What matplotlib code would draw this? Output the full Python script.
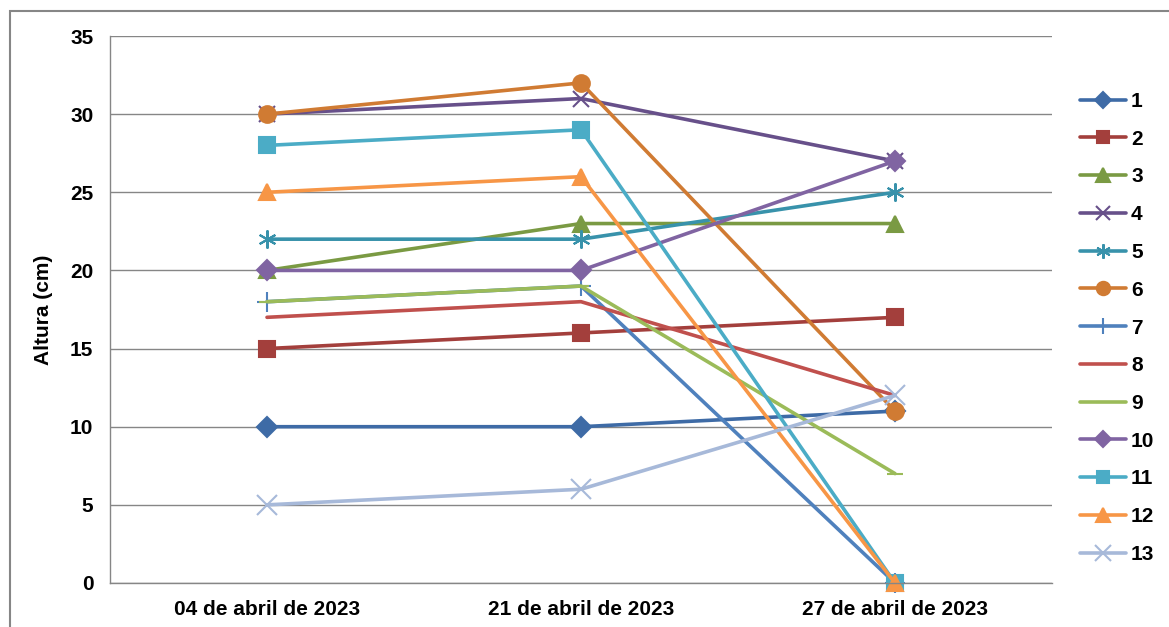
import matplotlib.pyplot as plt
from matplotlib.patches import Rectangle

plt.rcParams['font.family'] = ['Liberation Sans', 'DejaVu Sans']

fechas = ['04 de abril de 2023', '21 de abril de 2023', '27 de abril de 2023']
series = ['1', '2', '3', '4', '5', '6', '7', '8', '9', '10', '11', '12', '13']

s1 = [10, 10, 11]
s2 = [15, 16, 17]
s3 = [20, 23, 23]
s4 = [30, 31, 27]
s5 = [22, 22, 25]
s6 = [30, 32, 11]
s7 = [18, 19, 0]
s8 = [17, 18, 12]
s9 = [18, 19, 7]
s10 = [20, 20, 27]
s11 = [28, 29, 0]
s12 = [25, 26, 0]
s13 = [5, 6, 12]
valores = [s1, s2, s3, s4, s5, s6, s7, s8, s9, s10, s11, s12, s13]

colores = ['#3E6BA6', '#A33F3C', '#7A9A43', '#67508A', '#3892AB', '#D07B33',
           '#4F81BD', '#C0504D', '#9BBB59', '#8064A2', '#4BACC6', '#F79646', '#A7B9D9']
marcas = ['D', 's', '^', 'x', (6, 2, 0), 'o', '+', None, '_', 'D', 's', '^', 'x']
tamanos = [10, 11, 12, 12, 13, 12, 14, 0, 12, 10, 11, 12, 14]

fig = plt.figure(figsize=(11.69, 6.27), dpi=100)
ax = fig.add_axes([110/1169, 1 - 583/627, (1052 - 110)/1169, (583 - 36)/627])

x = list(range(len(fechas)))
for nombre, y, c, m, ms in zip(series, valores, colores, marcas, tamanos):
    ax.plot(x, y, color=c, lw=2.6, marker=m, markersize=ms,
            markerfacecolor=c, markeredgecolor=c, markeredgewidth=1.5,
            label=nombre, solid_capstyle='round', clip_on=False)

ax.set_xlim(-0.5, 2.5)
ax.set_ylim(0, 35)
ax.set_yticks(range(0, 36, 5))
ax.set_xticks(x)
ax.set_xticklabels(fechas)
ax.tick_params(length=0, labelsize=15, pad=12)
for t in ax.get_xticklabels() + ax.get_yticklabels():
    t.set_fontweight('bold')
ax.set_ylabel('Altura (cm)', fontsize=15, fontweight='bold', labelpad=12)

ax.grid(axis='y', color='#868686', lw=1)
ax.set_axisbelow(True)
for lado in ['top', 'right']:
    ax.spines[lado].set_visible(False)
for lado in ['left', 'bottom']:
    ax.spines[lado].set_color('#868686')
    ax.spines[lado].set_linewidth(1)

leg = fig.legend(loc='center left', bbox_to_anchor=(1080/1169, 1 - 328/627),
                 frameon=False, prop={'size': 15, 'weight': 'bold'},
                 handlelength=2.2, handletextpad=0.25, labelspacing=0.9,
                 markerscale=0.8, borderaxespad=0, borderpad=0)

fig.patches.append(Rectangle((10/1169, -0.2), 1.1, 1 - 11/627 + 0.2,
                             transform=fig.transFigure, fill=False,
                             edgecolor='#868686', lw=1.5))

fig.savefig('out.png', dpi=100)
